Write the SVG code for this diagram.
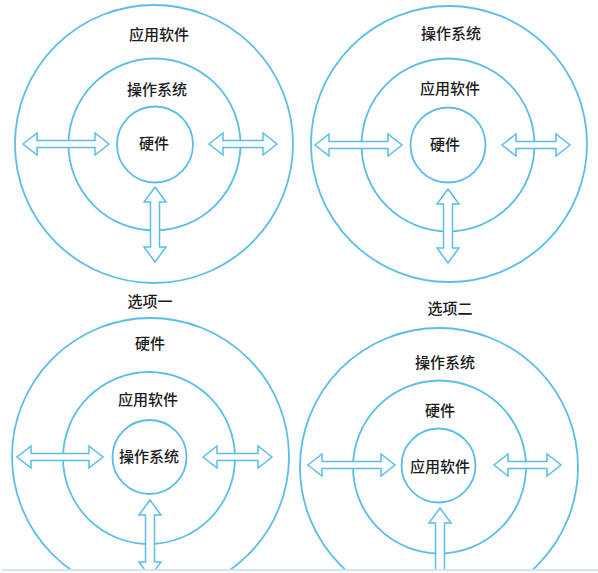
<svg xmlns="http://www.w3.org/2000/svg" width="598" height="573" viewBox="0 0 598 573">
<style>
.ring{fill:none;stroke:#5bbde8;stroke-width:1.8}
.arr{fill:#ffffff;stroke:#5bbde8;stroke-width:1.5;stroke-linejoin:miter}
.t{font-family:"Noto Sans CJK SC","Noto Sans",sans-serif;font-size:15px;font-weight:500;fill:#1a1a1a;text-anchor:middle;dominant-baseline:central}
</style>
<rect width="598" height="573" fill="#ffffff"/>
<g id="diagram1">
<g id="d1-app"><circle class="ring" cx="154" cy="144" r="139"/><text class="t" x="159" y="33">应用软件</text></g>
<g id="d1-os"><circle class="ring" cx="154.5" cy="144.5" r="86"/><text class="t" x="157" y="88">操作系统</text></g>
<g id="d1-hw"><circle class="ring" cx="155" cy="144.5" r="38"/><text class="t" x="154" y="142">硬件</text></g>
</g>
<g id="diagram2">
<g id="d2-os"><circle class="ring" cx="449" cy="144" r="138"/><text class="t" x="451" y="32">操作系统</text></g>
<g id="d2-app"><circle class="ring" cx="448" cy="145" r="86.5"/><text class="t" x="450" y="87">应用软件</text></g>
<g id="d2-hw"><circle class="ring" cx="448" cy="145" r="37.5"/><text class="t" x="445" y="143">硬件</text></g>
</g>
<g id="diagram3">
<text class="t" x="150" y="300">选项一</text>
<g id="d3-hw"><circle class="ring" cx="150.5" cy="456.5" r="138.5"/><text class="t" x="150" y="342">硬件</text></g>
<g id="d3-app"><circle class="ring" cx="149" cy="458" r="86"/><text class="t" x="148" y="398">应用软件</text></g>
<g id="d3-os"><circle class="ring" cx="149.5" cy="457" r="37"/><text class="t" x="149" y="455">操作系统</text></g>
</g>
<g id="diagram4">
<text class="t" x="450" y="307">选项二</text>
<g id="d4-os"><circle class="ring" cx="439" cy="467" r="139"/><text class="t" x="445" y="361">操作系统</text></g>
<g id="d4-hw"><circle class="ring" cx="439.5" cy="467" r="86.5"/><text class="t" x="440" y="409">硬件</text></g>
<g id="d4-app"><circle class="ring" cx="438.5" cy="465.5" r="37"/><text class="t" x="440" y="465">应用软件</text></g>
</g>
<g id="connectors">
<path class="arr" d="M23 144 L37 133 L37 140.5 L95 140.5 L95 133 L109 144 L95 155 L95 147.5 L37 147.5 L37 155 Z"/>
<path class="arr" d="M209 144 L223 133 L223 140.5 L263 140.5 L263 133 L277 144 L263 155 L263 147.5 L223 147.5 L223 155 Z"/>
<path class="arr" d="M155 187 L166 202 L159.5 202 L159.5 247 L166 247 L155 262 L144 247 L150.5 247 L150.5 202 L144 202 Z"/>
<path class="arr" d="M315 145 L329 134 L329 141.5 L388 141.5 L388 134 L402 145 L388 156 L388 148.5 L329 148.5 L329 156 Z"/>
<path class="arr" d="M502 145 L516 134 L516 141.5 L556 141.5 L556 134 L570 145 L556 156 L556 148.5 L516 148.5 L516 156 Z"/>
<path class="arr" d="M448 189 L459 204 L452.5 204 L452.5 248 L459 248 L448 263 L437 248 L443.5 248 L443.5 204 L437 204 Z"/>
<path class="arr" d="M17 457 L31 446 L31 453.5 L89 453.5 L89 446 L103 457 L89 468 L89 460.5 L31 460.5 L31 468 Z"/>
<path class="arr" d="M203 457 L217 446 L217 453.5 L258 453.5 L258 446 L272 457 L258 468 L258 460.5 L217 460.5 L217 468 Z"/>
<path class="arr" d="M150 500 L161 515 L154.5 515 L154.5 562 L161 562 L150 577 L139 562 L145.5 562 L145.5 515 L139 515 Z"/>
<path class="arr" d="M308 465 L322 454 L322 461.5 L381 461.5 L381 454 L395 465 L381 476 L381 468.5 L322 468.5 L322 476 Z"/>
<path class="arr" d="M494 465 L508 454 L508 461.5 L547 461.5 L547 454 L561 465 L547 476 L547 468.5 L508 468.5 L508 476 Z"/>
<path class="arr" d="M440 508 L451 523 L444.5 523 L444.5 580 L435.5 580 L435.5 523 L429 523 Z"/>
</g>
<rect x="0" y="571" width="598" height="2" fill="#ffffff"/>
<rect x="2" y="569" width="596" height="2" fill="#d2e4f2"/>
</svg>
